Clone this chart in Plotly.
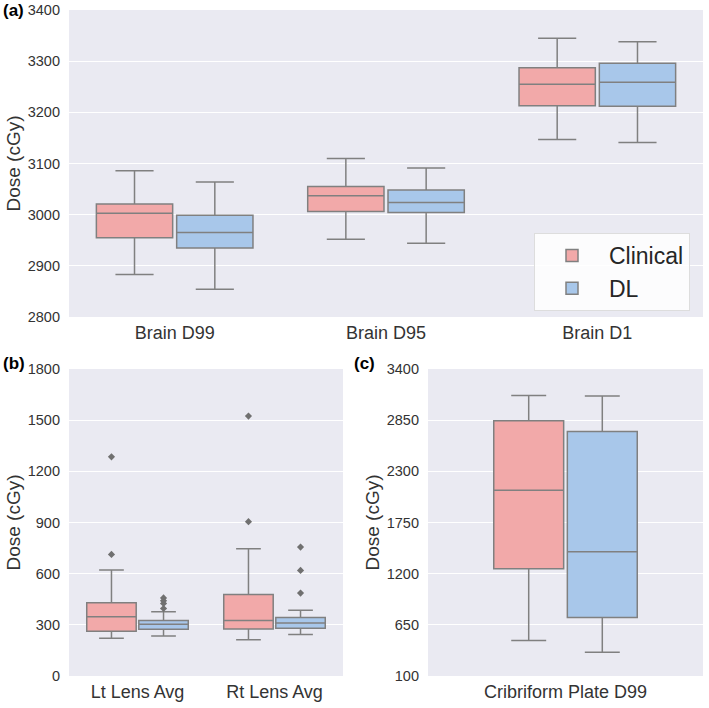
import plotly.graph_objects as go

# ---------------- data ----------------
series_names = ["Clinical", "DL"]
series_fill = ["#F2A9A9", "#A8C7EA"]

# Panel (a) brain
brain_cats = ["Brain D99", "Brain D95", "Brain D1"]
brain_clin_low = [2883, 2952, 3147]
brain_clin_q1 = [2955, 3006, 3213]
brain_clin_med = [3003, 3037, 3255]
brain_clin_q3 = [3021, 3055, 3287]
brain_clin_high = [3086, 3110, 3345]
brain_dl_low = [2854, 2944, 3141]
brain_dl_q1 = [2935, 3004, 3212]
brain_dl_med = [2965, 3024, 3259]
brain_dl_q3 = [2999, 3048, 3296]
brain_dl_high = [3064, 3091, 3338]

# Panel (b) lens
lens_cats = ["Lt Lens Avg", "Rt Lens Avg"]
lens_clin_low = [221, 212]
lens_clin_q1 = [263, 276]
lens_clin_med = [347, 325]
lens_clin_q3 = [429, 478]
lens_clin_high = [621, 746]
lens_clin_outliers = [[713, 1285], [905, 1524]]
lens_dl_low = [235, 243]
lens_dl_q1 = [274, 280]
lens_dl_med = [304, 311]
lens_dl_q3 = [325, 343]
lens_dl_high = [376, 386]
lens_dl_outliers = [[396, 425, 441, 458], [486, 619, 756]]

# Panel (c) cribriform plate
plate_cats = ["Cribriform Plate D99"]
plate_clin_low = [481]
plate_clin_q1 = [1253]
plate_clin_med = [2098]
plate_clin_q3 = [2845]
plate_clin_high = [3114]
plate_dl_low = [355]
plate_dl_q1 = [729]
plate_dl_med = [1436]
plate_dl_q3 = [2729]
plate_dl_high = [3111]

brain_ticks = [2800, 2900, 3000, 3100, 3200, 3300, 3400]
lens_ticks = [0, 300, 600, 900, 1200, 1500, 1800]
plate_ticks = [100, 650, 1200, 1750, 2300, 2850, 3400]

# ---------------- figure ----------------
W, H = 709, 708
LINE = "#808080"
fig = go.Figure()


def add_box(name, color, cats, low, q1, med, q3, high, xa, ya, show, pts=None):
    kw = {}
    if pts is not None:
        kw["y"] = [sorted(p + [m]) for p, m in zip(pts, med)]
        kw["boxpoints"] = "outliers"
    else:
        kw["boxpoints"] = False
    fig.add_trace(go.Box(
        name=name, x=cats, q1=q1, median=med, q3=q3,
        lowerfence=low, upperfence=high,
        fillcolor=color, line=dict(color=LINE, width=1.5),
        whiskerwidth=0.5,
        marker=dict(symbol="diamond", size=5.5, color="#707070"),
        offsetgroup=name, legendgroup=name, showlegend=show,
        xaxis=xa, yaxis=ya, **kw))


stats_a = [
    (brain_clin_low, brain_clin_q1, brain_clin_med, brain_clin_q3, brain_clin_high),
    (brain_dl_low, brain_dl_q1, brain_dl_med, brain_dl_q3, brain_dl_high),
]
stats_b = [
    (lens_clin_low, lens_clin_q1, lens_clin_med, lens_clin_q3, lens_clin_high, lens_clin_outliers),
    (lens_dl_low, lens_dl_q1, lens_dl_med, lens_dl_q3, lens_dl_high, lens_dl_outliers),
]
stats_c = [
    (plate_clin_low, plate_clin_q1, plate_clin_med, plate_clin_q3, plate_clin_high),
    (plate_dl_low, plate_dl_q1, plate_dl_med, plate_dl_q3, plate_dl_high),
]

for i, n in enumerate(series_names):
    add_box(n, series_fill[i], brain_cats, *stats_a[i], "x", "y", True)
for i, n in enumerate(series_names):
    s = stats_b[i]
    add_box(n, series_fill[i], lens_cats, *s[:5], "x2", "y2", False, pts=s[5])
for i, n in enumerate(series_names):
    add_box(n, series_fill[i], plate_cats, *stats_c[i], "x3", "y3", False)

FONT = "Liberation Sans, Arial, sans-serif"
TICKC = "#333333"


def fx(px):
    return px / W


def fy(py):
    return 1 - py / H


common_x = dict(type="category", showgrid=False, zeroline=False, showline=False,
                ticks="", automargin=False, ticklabelstandoff=3,
                tickfont=dict(size=18, color=TICKC, family=FONT))
common_y = dict(showgrid=True, gridcolor="white", gridwidth=1.3, zeroline=False,
                showline=False, ticks="", automargin=False, ticklabelstandoff=8,
                tickfont=dict(size=14.5, color=TICKC, family=FONT),
                title=dict(text="Dose (cGy)", font=dict(size=19, color=TICKC, family=FONT), standoff=2))

fig.update_layout(
    width=W, height=H,
    margin=dict(l=0, r=0, t=0, b=0),
    paper_bgcolor="white", plot_bgcolor="#EAEAF2",
    boxmode="group", boxgap=0.24, boxgroupgap=0.05,
    font=dict(family=FONT, color=TICKC),
    xaxis=dict(domain=[fx(69), fx(703)], anchor="y", range=[-0.5, 2.5], **common_x),
    yaxis=dict(domain=[fy(317), fy(10)], anchor="x", range=[2800, 3400],
               tickvals=brain_ticks, **common_y),
    xaxis2=dict(domain=[fx(69), fx(343)], anchor="y2", range=[-0.5, 1.5], **common_x),
    yaxis2=dict(domain=[fy(676), fy(369)], anchor="x2", range=[0, 1800],
                tickvals=lens_ticks, **common_y),
    xaxis3=dict(domain=[fx(428), fx(703)], anchor="y3", range=[-0.71, 0.71], **common_x),
    yaxis3=dict(domain=[fy(676), fy(369)], anchor="x3", range=[100, 3400],
                tickvals=plate_ticks, **common_y),
    legend=dict(x=fx(534), y=fy(233), xanchor="left", yanchor="top",
                bgcolor="rgba(255,255,255,0.85)", bordercolor="#dddddd", borderwidth=1,
                font=dict(size=23, color="#262626", family=FONT),
                itemwidth=64, tracegroupgap=0),
)

for txt, xp, yp in [("(a)", 1, 11), ("(b)", 1, 363), ("(c)", 352, 363)]:
    fig.add_annotation(text="<b>%s</b>" % txt, xref="paper", yref="paper",
                       x=fx(xp), y=fy(yp), xanchor="left", yanchor="middle",
                       showarrow=False, font=dict(size=17, color="black", family=FONT))

fig.write_html("out.html", config={"displayModeBar": False},
               post_script="document.body.style.margin='0px';document.body.style.overflow='hidden';")
